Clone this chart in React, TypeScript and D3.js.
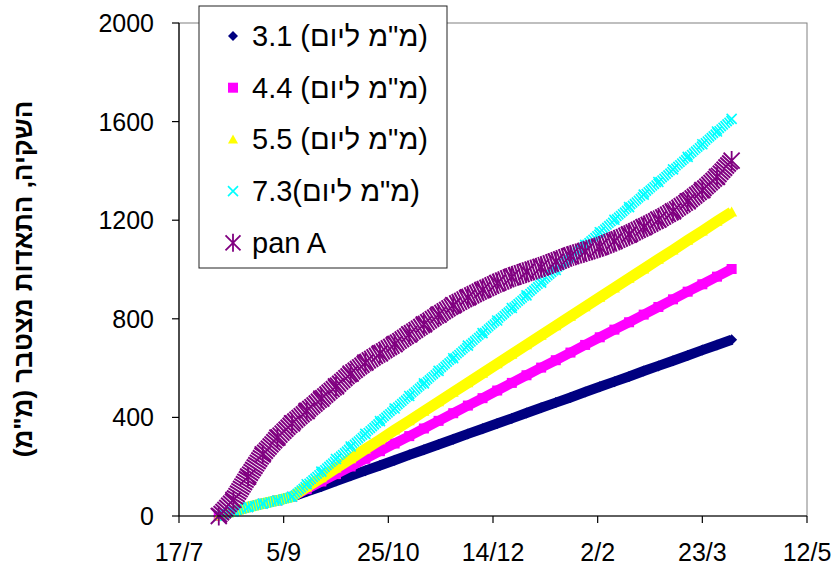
import React from "react";
import * as d3 from "d3";

// Weekly sample dates
const weekDates = [
  "2007-08-05", "2007-08-12", "2007-08-19", "2007-08-26", "2007-09-02", "2007-09-09",
  "2007-09-16", "2007-09-23", "2007-09-30", "2007-10-07", "2007-10-14", "2007-10-21",
  "2007-10-28", "2007-11-04", "2007-11-11", "2007-11-18", "2007-11-25", "2007-12-02",
  "2007-12-09", "2007-12-16", "2007-12-23", "2007-12-30", "2008-01-06", "2008-01-13",
  "2008-01-20", "2008-01-27", "2008-02-03", "2008-02-10", "2008-02-17", "2008-02-24",
  "2008-03-02", "2008-03-09", "2008-03-16", "2008-03-23", "2008-03-30", "2008-04-06",
];

const rate31 = [0, 18, 36, 50, 63, 78, 99, 120, 142, 163, 184, 205, 226, 248, 269, 290, 311, 333, 354, 375, 396, 418, 439, 460, 481, 503, 524, 545, 566, 588, 609, 630, 651, 673, 694, 715];
const rate44 = [0, 18, 36, 50, 63, 78, 109, 140, 170, 201, 232, 263, 294, 324, 355, 386, 417, 448, 478, 509, 540, 571, 602, 632, 663, 694, 725, 756, 786, 817, 848, 879, 910, 940, 971, 1002];
const rate55 = [0, 18, 36, 50, 63, 78, 117, 155, 194, 232, 271, 309, 348, 386, 425, 463, 502, 540, 579, 617, 656, 694, 733, 771, 810, 848, 887, 925, 964, 1002, 1041, 1079, 1118, 1156, 1195, 1233];
const rate73 = [0, 18, 36, 50, 63, 78, 129, 180, 231, 282, 333, 385, 436, 487, 538, 589, 640, 691, 742, 793, 844, 895, 947, 998, 1049, 1100, 1151, 1202, 1253, 1304, 1355, 1406, 1457, 1508, 1560, 1611];
const panA = [0, 65, 160, 250, 318, 376, 426, 476, 526, 578, 622, 660, 697, 737, 777, 817, 855, 887, 917, 945, 970, 990, 1010, 1032, 1055, 1073, 1092, 1115, 1142, 1172, 1202, 1236, 1276, 1322, 1376, 1442];

const seriesNames = ["3.1 (מ\"מ ליום)", "4.4 (מ\"מ ליום)", "5.5 (מ\"מ ליום)", "7.3(מ\"מ ליום)", "pan A"];
const xTickDates = ["2007-07-17", "2007-09-05", "2007-10-25", "2007-12-14", "2008-02-02", "2008-03-23", "2008-05-12"];
const yTicks = [0, 400, 800, 1200, 1600, 2000];
const yTitle = "השקיה, התאדות מצטבר (מ\"מ)";

const FONT = "'Liberation Sans', Arial, sans-serif";

type MarkerKind = "diamond" | "square" | "triangle" | "x" | "star";

function Marker({ kind, cx, cy, color, r }: { kind: MarkerKind; cx: number; cy: number; color: string; r: number }) {
  if (kind === "diamond") {
    return <path d={`M${cx},${cy - r}L${cx + r},${cy}L${cx},${cy + r}L${cx - r},${cy}Z`} fill={color} />;
  }
  if (kind === "square") {
    return <rect x={cx - r} y={cy - r} width={2 * r} height={2 * r} fill={color} />;
  }
  if (kind === "triangle") {
    return <path d={`M${cx},${cy - r}L${cx + r},${cy + r * 0.8}L${cx - r},${cy + r * 0.8}Z`} fill={color} />;
  }
  if (kind === "x") {
    return (
      <path d={`M${cx - r},${cy - r}L${cx + r},${cy + r}M${cx - r},${cy + r}L${cx + r},${cy - r}`} stroke={color} strokeWidth={1.6} fill="none" />
    );
  }
  return (
    <path
      d={`M${cx - r},${cy - r}L${cx + r},${cy + r}M${cx - r},${cy + r}L${cx + r},${cy - r}M${cx},${cy - r * 1.2}L${cx},${cy + r * 1.2}`}
      stroke={color}
      strokeWidth={1.8}
      fill="none"
    />
  );
}

export default function App() {
  const parse = d3.timeParse("%Y-%m-%d");
  const x = d3.scaleTime().domain([parse("2007-07-17")!, parse("2008-05-12")!]).range([179, 807]);
  const y = d3.scaleLinear().domain([0, 2000]).range([516, 23]);
  const dates = weekDates.map((d) => parse(d)!);
  const fmt = d3.timeFormat("%-d/%-m");

  const series = [
    { name: seriesNames[0], values: rate31, color: "#000080", kind: "diamond" as MarkerKind, width: 10, dash: "", r: 5.5 },
    { name: seriesNames[1], values: rate44, color: "#FF00FF", kind: "square" as MarkerKind, width: 10, dash: "", r: 5 },
    { name: seriesNames[2], values: rate55, color: "#FFFF00", kind: "triangle" as MarkerKind, width: 11, dash: "", r: 5.5 },
    { name: seriesNames[3], values: rate73, color: "#00FFFF", kind: "x" as MarkerKind, width: 11, dash: "1.7 0.9", r: 5 },
    { name: seriesNames[4], values: panA, color: "#800080", kind: "star" as MarkerKind, width: 21, dash: "2 0.8", r: 8 },
  ];

  const lineGen = d3
    .line<number>()
    .x((_, i) => x(dates[i]))
    .y((v) => y(v));

  return (
    <svg width={832} height={570} style={{ position: "absolute", left: 0, top: 0, background: "#fff" }} fontFamily={FONT}>
      <rect x={0} y={0} width={832} height={570} fill="#fff" />
      {/* plot area border */}
      <rect x={x.range()[0]} y={y(2000)} width={x.range()[1] - x.range()[0]} height={y(0) - y(2000)} fill="none" stroke="#808080" strokeWidth={1} />

      {/* series */}
      {series.map((s) => (
        <g key={s.name}>
          <path
            d={lineGen(s.values) || ""}
            fill="none"
            stroke={s.color}
            strokeWidth={s.width}
            strokeDasharray={s.dash || undefined}
            strokeLinejoin="round"
          />
          {s.values.map((v, i) => (
            <Marker key={i} kind={s.kind} cx={x(dates[i])} cy={y(v)} color={s.color} r={s.r} />
          ))}
        </g>
      ))}

      {/* axes */}
      <line x1={x.range()[0]} x2={x.range()[0]} y1={y(2000)} y2={y(0)} stroke="#000" strokeWidth={1.2} />
      <line x1={x.range()[0]} x2={x.range()[1]} y1={y(0)} y2={y(0)} stroke="#000" strokeWidth={1.2} />
      {yTicks.map((t) => (
        <g key={t}>
          <line x1={x.range()[0] - 7} x2={x.range()[0]} y1={y(t)} y2={y(t)} stroke="#000" strokeWidth={1.2} />
          <text x={154} y={y(t)} dy="0.36em" textAnchor="end" fontSize={25} fill="#000">
            {t}
          </text>
        </g>
      ))}
      {xTickDates.map((d) => {
        const dt = parse(d)!;
        return (
          <g key={d}>
            <line x1={x(dt)} x2={x(dt)} y1={y(0)} y2={y(0) + 7} stroke="#000" strokeWidth={1.2} />
            <text x={x(dt)} y={561} textAnchor="middle" fontSize={25} fill="#000">
              {fmt(dt)}
            </text>
          </g>
        );
      })}

      {/* y title */}
      <text transform="translate(32,279) rotate(-90)" textAnchor="middle" fontSize={26} fontWeight="bold" fill="#000">
        {yTitle}
      </text>

      {/* legend */}
      <rect x={199} y={6} width={248} height={262} fill="#fff" stroke="#222" strokeWidth={1} />
      {series.map((s, i) => (
        <g key={"lg" + i}>
          <Marker kind={s.kind} cx={233} cy={36 + i * 51.7} color={s.color} r={s.kind === "star" ? 7.5 : 5} />
          <text x={252} y={46 + i * 51.7} fontSize={29} fill="#000">
            {s.name}
          </text>
        </g>
      ))}
    </svg>
  );
}
